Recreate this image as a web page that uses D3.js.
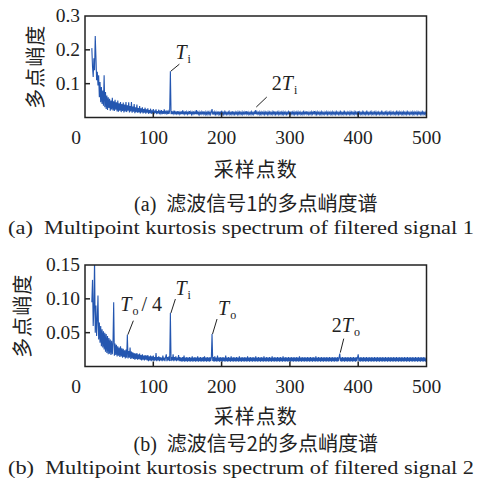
<!DOCTYPE html>
<html>
<head>
<meta charset="utf-8">
<script src="https://cdn.jsdelivr.net/npm/d3@7"></script>
<style>
  body { margin: 0; background: #fff; }
  svg { display: block; }
</style>
</head>
<body>
<script>
const SERIF = "'Liberation Serif', 'DejaVu Serif', serif";
const CJK = "'Noto Sans CJK SC', sans-serif";

// sample index where both spectra start
const startIndex = 10;

// filtered signal 1, one value per sample point 10..500
const kurtA = [
  .205,.150,.120,.175,.140,.241,.180,.110,.135,.095,
  .125,.060,.105,.045,.090,.040,.080,.035,.125,.030,
  .075,.025,.065,.022,.060,.028,.055,.020,.050,.024,
  .058,.021,.048,.019,.052,.023,.045,.018,.050,.017,
  .042,.020,.046,.016,.040,.019,.044,.015,.038,.018,
  .046,.016,.036,.020,.045,.015,.034,.018,.046,.014,
  .032,.017,.040,.013,.030,.016,.038,.014,.028,.015,
  .034,.012,.027,.015,.030,.012,.025,.014,.029,.011,
  .024,.014,.027,.011,.022,.013,.026,.011,.021,.012,
  .025,.010,.020,.013,.024,.010,.019,.012,.023,.010,
  .018,.012,.022,.010,.019,.011,.024,.010,.017,.012,
  .021,.010,.018,.011,.020,.137,.010,.019,.010,.017,
  .011,.020,.009,.016,.011,.019,.009,.018,.010,.016,
  .009,.018,.010,.021,.009,.016,.010,.018,.009,.017,
  .010,.016,.009,.019,.010,.017,.009,.016,.010,.018,
  .009,.016,.010,.022,.009,.016,.010,.017,.009,.015,
  .010,.017,.009,.018,.010,.015,.009,.017,.010,.016,
  .009,.016,.010,.017,.009,.016,.025,.009,.015,.010,
  .017,.009,.016,.010,.015,.009,.018,.010,.015,.009,
  .020,.010,.015,.009,.017,.010,.016,.009,.015,.010,
  .016,.009,.017,.010,.015,.009,.018,.010,.015,.009,
  .016,.010,.015,.009,.017,.010,.016,.009,.015,.010,
  .017,.009,.015,.010,.016,.009,.019,.010,.015,.009,
  .016,.010,.015,.009,.017,.010,.015,.009,.016,.010,
  .022,.009,.016,.010,.015,.009,.017,.010,.016,.009,
  .015,.010,.017,.009,.016,.010,.015,.009,.017,.010,
  .016,.009,.015,.010,.017,.009,.016,.010,.018,.009,
  .015,.010,.016,.009,.017,.010,.015,.009,.016,.010,
  .017,.009,.015,.010,.016,.009,.015,.010,.017,.009,
  .018,.010,.015,.009,.016,.010,.017,.009,.015,.010,
  .016,.009,.017,.010,.015,.009,.016,.010,.015,.009,
  .017,.010,.016,.009,.018,.010,.015,.009,.016,.010,
  .015,.009,.017,.010,.016,.009,.019,.010,.016,.009,
  .017,.010,.015,.009,.016,.010,.017,.009,.015,.010,
  .016,.009,.015,.010,.017,.009,.016,.010,.015,.009,
  .016,.010,.017,.009,.015,.010,.016,.009,.017,.010,
  .015,.009,.016,.010,.017,.009,.015,.010,.016,.009,
  .017,.010,.015,.009,.016,.010,.015,.009,.017,.010,
  .016,.009,.015,.010,.017,.009,.016,.010,.015,.009,
  .019,.010,.016,.009,.015,.010,.017,.009,.016,.010,
  .015,.009,.017,.010,.016,.009,.015,.010,.016,.009,
  .017,.010,.015,.009,.016,.010,.017,.009,.015,.010,
  .016,.009,.015,.010,.017,.009,.016,.010,.015,.009,
  .016,.010,.017,.009,.015,.010,.016,.009,.017,.010,
  .015,.009,.016,.010,.015,.009,.017,.010,.016,.009,
  .017,.010,.015,.009,.016,.010,.017,.009,.015,.010,
  .016,.009,.017,.010,.015,.009,.016,.010,.015,.009,
  .017,.010,.016,.009,.015,.010,.017,.009,.016,.010,
  .015,.009,.016,.010,.017,.009,.015,.010,.016,.009,
  .015
];

// filtered signal 2, sample points 10..500
const kurtB = [
  .095,.128,.060,.085,.160,.050,.090,.045,.070,.105,
  .040,.065,.035,.060,.030,.055,.028,.052,.025,.050,
  .022,.048,.020,.045,.018,.042,.019,.040,.017,.038,
  .018,.036,.095,.016,.034,.017,.032,.015,.030,.016,
  .028,.014,.030,.015,.027,.013,.026,.014,.024,.012,
  .025,.013,.047,.012,.023,.013,.028,.011,.022,.012,
  .021,.011,.020,.010,.019,.011,.020,.010,.018,.011,
  .019,.010,.017,.009,.018,.010,.016,.009,.017,.010,
  .016,.009,.017,.008,.015,.009,.016,.008,.015,.009,
  .016,.008,.014,.009,.020,.008,.014,.009,.015,.008,
  .014,.009,.013,.008,.016,.009,.013,.008,.014,.018,
  .008,.014,.009,.015,.008,.079,.008,.014,.009,.018,
  .008,.014,.009,.015,.008,.013,.009,.017,.008,.014,
  .008,.013,.007,.014,.008,.016,.007,.013,.008,.014,
  .007,.013,.008,.014,.007,.013,.008,.015,.007,.013,
  .008,.014,.007,.013,.008,.015,.007,.013,.008,.014,
  .007,.013,.008,.014,.007,.015,.008,.013,.007,.014,
  .008,.013,.007,.014,.008,.013,.048,.008,.014,.007,
  .015,.008,.013,.007,.016,.008,.013,.007,.014,.008,
  .013,.007,.014,.008,.013,.007,.016,.008,.013,.007,
  .014,.008,.013,.007,.015,.008,.013,.007,.014,.008,
  .013,.007,.014,.008,.013,.007,.015,.008,.013,.007,
  .014,.008,.013,.007,.014,.008,.013,.007,.015,.008,
  .013,.007,.014,.008,.013,.007,.014,.008,.013,.007,
  .015,.008,.013,.007,.014,.008,.013,.007,.014,.008,
  .013,.007,.015,.008,.013,.007,.014,.008,.013,.007,
  .014,.008,.013,.007,.015,.008,.013,.007,.014,.008,
  .013,.007,.014,.008,.013,.007,.014,.008,.013,.007,
  .015,.008,.013,.007,.014,.008,.013,.007,.014,.008,
  .013,.007,.014,.008,.013,.007,.014,.008,.013,.007,
  .014,.008,.013,.007,.015,.008,.013,.007,.014,.008,
  .013,.007,.014,.008,.013,.007,.014,.008,.013,.007,
  .014,.008,.013,.007,.014,.008,.013,.007,.015,.008,
  .013,.007,.014,.008,.013,.007,.014,.008,.013,.007,
  .014,.008,.013,.007,.014,.008,.013,.007,.014,.008,
  .013,.007,.014,.008,.013,.007,.014,.008,.013,.007,
  .014,.008,.013,.019,.008,.013,.007,.014,.008,.013,
  .007,.014,.008,.013,.007,.014,.008,.013,.007,.014,
  .008,.013,.007,.014,.008,.013,.007,.014,.008,.013,
  .018,.008,.013,.007,.014,.008,.013,.007,.014,.008,
  .013,.007,.014,.008,.013,.007,.014,.008,.013,.007,
  .014,.008,.013,.007,.014,.008,.013,.007,.014,.008,
  .013,.007,.014,.008,.013,.007,.014,.008,.013,.007,
  .014,.008,.013,.007,.014,.008,.013,.007,.014,.008,
  .013,.007,.014,.008,.013,.007,.014,.008,.013,.007,
  .014,.008,.013,.007,.014,.008,.013,.007,.014,.008,
  .013,.007,.014,.008,.013,.007,.014,.008,.013,.007,
  .014,.008,.013,.007,.014,.008,.013,.007,.014,.008,
  .013,.007,.014,.008,.013,.007,.014,.008,.013,.007,
  .011
];

const xTicks = [0, 100, 200, 300, 400, 500];
const yTicksA = [0.1, 0.2, 0.3];
const yTicksB = [0.05, 0.10, 0.15];

const xTitle = "采样点数";
const yTitle = "多点峭度";
const captionsA = ["(a)", "滤波信号1的多点峭度谱", "(a)  Multipoint kurtosis spectrum of filtered signal 1"];
const captionsB = ["(b)", "滤波信号2的多点峭度谱", "(b)  Multipoint kurtosis spectrum of filtered signal 2"];

// labelled peaks: pre = leading text, sym = italic symbol, sub = subscript, post = trailing text
const peaksA = [
  { at: 125, pre: "", sym: "T", sub: "i", post: "" },
  { at: 250, pre: "2", sym: "T", sub: "i", post: "" }
];
const peaksB = [
  { at: 62,  pre: "", sym: "T", sub: "o", post: "/ 4" },
  { at: 125, pre: "", sym: "T", sub: "i", post: "" },
  { at: 186, pre: "", sym: "T", sub: "o", post: "" },
  { at: 373, pre: "2", sym: "T", sub: "o", post: "" }
];

const W = 484, H = 485;
const lineColor = "#2456b0";
const ink = "#222";

const svg = d3.select("body").append("svg")
  .attr("width", W).attr("height", H);

const x = d3.scaleLinear().domain([0, 500]).range([85, 426.5]);

function drawPanel(cfg) {
  const y = d3.scaleLinear().domain([0, cfg.yMax]).range([cfg.bottom, cfg.top]);
  const g = svg.append("g");
  const pts = cfg.values.map((v, i) => [startIndex + i, v]);

  g.append("clipPath").attr("id", cfg.id)
    .append("rect")
    .attr("x", x(0)).attr("y", cfg.top)
    .attr("width", x(500) - x(0)).attr("height", cfg.bottom - cfg.top);

  g.append("path")
    .datum(pts)
    .attr("clip-path", `url(#${cfg.id})`)
    .attr("fill", "none")
    .attr("stroke", lineColor)
    .attr("stroke-width", 1.1)
    .attr("d", d3.line().x(d => x(d[0])).y(d => y(d[1])));

  // frame
  g.append("rect")
    .attr("x", x(0)).attr("y", cfg.top)
    .attr("width", x(500) - x(0)).attr("height", cfg.bottom - cfg.top)
    .attr("fill", "none").attr("stroke", ink).attr("stroke-width", 1.5);

  // inward ticks
  const inner = xTicks.filter(t => t > 0 && t < 500);
  g.selectAll(".xt").data(inner).enter().append("line")
    .attr("x1", d => x(d)).attr("x2", d => x(d))
    .attr("y1", cfg.bottom).attr("y2", cfg.bottom - 5)
    .attr("stroke", ink).attr("stroke-width", 1.5);
  g.selectAll(".yt").data(cfg.yTicks.filter(t => t < cfg.yMax)).enter().append("line")
    .attr("x1", x(0)).attr("x2", x(0) + 5)
    .attr("y1", d => y(d)).attr("y2", d => y(d))
    .attr("stroke", ink).attr("stroke-width", 1.5);

  // tick labels
  g.selectAll(".xl").data(xTicks).enter().append("text")
    .attr("font-family", SERIF)
    .attr("x", d => x(d) - (d === 0 ? 9 : 0))
    .attr("y", cfg.bottom + 26)
    .attr("text-anchor", "middle")
    .attr("font-size", 19.5)
    .attr("fill", ink)
    .text(d => d);
  g.selectAll(".yl").data(cfg.yTicks).enter().append("text")
    .attr("font-family", SERIF)
    .attr("x", x(0) - 5)
    .attr("y", d => y(d))
    .attr("dy", "0.33em")
    .attr("text-anchor", "end")
    .attr("font-size", 19.5)
    .attr("fill", ink)
    .text(d => cfg.fmt(d));

  // axis titles
  g.append("text")
    .attr("font-family", CJK)
    .attr("transform", `translate(${cfg.yTitleX},${(cfg.top + cfg.bottom) / 2}) rotate(-90)`)
    .attr("text-anchor", "middle")
    .attr("dy", "0.35em")
    .attr("font-size", 20)
    .attr("letter-spacing", 1)
    .attr("fill", ink)
    .text(yTitle);
  g.append("text")
    .attr("font-family", CJK)
    .attr("x", (x(0) + x(500)) / 2)
    .attr("y", cfg.bottom + cfg.xTitleDy)
    .attr("text-anchor", "middle")
    .attr("font-size", 20)
    .attr("letter-spacing", 1)
    .attr("fill", ink)
    .text(xTitle);

  // captions
  const c1 = g.append("text")
    .attr("x", (x(0) + x(500)) / 2)
    .attr("y", cfg.bottom + cfg.cap1Dy)
    .attr("text-anchor", "middle")
    .attr("font-size", 20)
    .attr("fill", ink);
  c1.append("tspan").attr("font-family", SERIF).text(cfg.captions[0] + "\u00a0\u00a0");
  c1.append("tspan").attr("font-family", CJK).text(cfg.captions[1]);

  g.append("text")
    .attr("font-family", SERIF)
    .attr("x", W / 2 - 1)
    .attr("y", cfg.bottom + cfg.cap2Dy)
    .attr("text-anchor", "middle")
    .attr("font-size", 19)
    .attr("textLength", 466)
    .attr("lengthAdjust", "spacingAndGlyphs")
    .attr("fill", ink)
    .style("white-space", "pre")
    .text(cfg.captions[2]);

  // peak annotations
  cfg.peaks.forEach((p, k) => {
    const sx = x(p.at);
    const sy = y(cfg.values[p.at - startIndex]);
    const o = cfg.offsets[k];
    g.append("line")
      .attr("x1", sx + 0.5).attr("y1", sy - o.gap)
      .attr("x2", sx + o.lx).attr("y2", sy - o.gap - o.ly)
      .attr("stroke", ink).attr("stroke-width", 1);
    const t = g.append("text")
      .attr("font-family", SERIF)
      .attr("x", sx + o.tx).attr("y", sy - o.ty)
      .attr("font-size", 20)
      .attr("fill", ink);
    if (p.pre) t.append("tspan").text(p.pre);
    t.append("tspan").attr("font-style", "italic").text(p.sym);
    t.append("tspan").attr("font-size", 12).attr("dy", 4).attr("dx", 1).text(p.sub);
    if (p.post) t.append("tspan").attr("dy", -4).attr("dx", 3).text(p.post);
  });
}

drawPanel({
  id: "clipA", values: kurtA, yMax: 0.3, top: 16, bottom: 117.5,
  yTicks: yTicksA, fmt: d3.format(".1f"), yTitleX: 36,
  xTitleDy: 59.5, cap1Dy: 93.5, cap2Dy: 116.5,
  captions: captionsA, peaks: peaksA,
  offsets: [
    { gap: 0, lx: 9, ly: 7, tx: 5, ty: 12 },
    { gap: 3, lx: 11, ly: 10, tx: 16, ty: 20 }
  ]
});

drawPanel({
  id: "clipB", values: kurtB, yMax: 0.15, top: 265, bottom: 366.5,
  yTicks: yTicksB, fmt: d3.format(".2f"), yTitleX: 23,
  xTitleDy: 57, cap1Dy: 84.5, cap2Dy: 107.5,
  captions: captionsB, peaks: peaksB,
  offsets: [
    { gap: 0, lx: 6, ly: 14, tx: -7, ty: 24 },
    { gap: 0, lx: 5, ly: 14, tx: 5, ty: 18 },
    { gap: 0, lx: 5, ly: 15, tx: 6, ty: 19 },
    { gap: 1, lx: 4, ly: 14, tx: -8, ty: 22 }
  ]
});
</script>
</body>
</html>
